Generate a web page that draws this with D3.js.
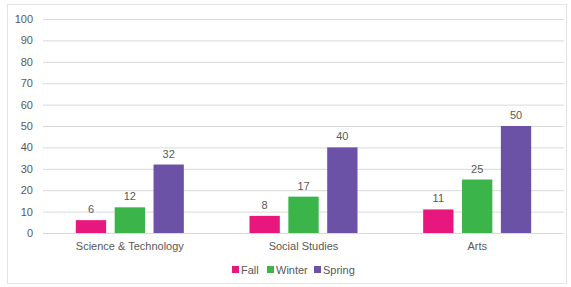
<!DOCTYPE html>
<html>
<head>
<meta charset="utf-8">
<script src="https://cdn.jsdelivr.net/npm/d3@7"></script>
<style>
  body { margin: 0; background: #fff; }
  text { font-family: "Liberation Sans", Arial, sans-serif; fill: #595959; }
</style>
</head>
<body>
<div id="chart"></div>
<script>
// data
const categories = ["Science & Technology", "Social Studies", "Arts"]
const seriesNames = ["Fall", "Winter", "Spring"]
const fallValues = [6, 8, 11]
const winterValues = [12, 17, 25]
const springValues = [32, 40, 50]
const yTicks = [0, 10, 20, 30, 40, 50, 60, 70, 80, 90, 100]
const colors = ["#e8177d", "#3bb54a", "#6b52a6"]

const W = 571, H = 287
const m = {top: 19, right: 7, bottom: 54, left: 43}

var svg = d3.select("#chart").append("svg")
    .attr("width", W)
    .attr("height", H)

// outer frame
svg.append("rect")
    .attr("x", 7.5).attr("y", 4.5)
    .attr("width", W - 12).attr("height", H - 8)
    .attr("fill", "none")
    .attr("stroke", "#e3e3e3")

var x0 = d3.scaleBand()
    .domain(categories)
    .range([m.left, W - m.right])

var x1 = d3.scaleBand()
    .domain(seriesNames)
    .range([0, 108])
    .paddingInner(0.22)

var y = d3.scaleLinear()
    .domain([0, 100])
    .range([H - m.bottom, m.top])

// gridlines + y labels
var yAxis = svg.append("g")
    .attr("transform", "translate(" + m.left + ",0)")
    .call(d3.axisLeft(y).tickValues(yTicks).tickSize(-(W - m.left - m.right)).tickPadding(10))
yAxis.select(".domain").remove()
yAxis.selectAll("line").attr("stroke", "#d9d9d9")
yAxis.selectAll("text").attr("font-size", 11).attr("fill", "#595959")

var rows = categories.map(function(c, i) {
    return {cat: c, vals: [fallValues[i], winterValues[i], springValues[i]]}
})

var groups = svg.selectAll(".grp")
    .data(rows)
    .enter().append("g")
    .attr("class", "grp")
    .attr("transform", function(d) {
        return "translate(" + (x0(d.cat) + x0.bandwidth() / 2 - 54) + ",0)"
    })

groups.selectAll("rect")
    .data(function(d) { return d.vals.map(function(v, j) { return {s: seriesNames[j], v: v, j: j} }) })
    .enter().append("rect")
    .attr("x", function(d) { return x1(d.s) })
    .attr("width", x1.bandwidth())
    .attr("y", function(d) { return y(d.v) })
    .attr("height", function(d) { return y(0) - y(d.v) })
    .attr("fill", function(d) { return colors[d.j] })

groups.selectAll("text")
    .data(function(d) { return d.vals.map(function(v, j) { return {s: seriesNames[j], v: v} }) })
    .enter().append("text")
    .attr("x", function(d) { return x1(d.s) + x1.bandwidth() / 2 })
    .attr("y", function(d) { return y(d.v) - 7 })
    .attr("text-anchor", "middle")
    .attr("font-size", 11)
    .text(function(d) { return d.v })

// category labels
svg.append("g").selectAll("text")
    .data(categories)
    .enter().append("text")
    .attr("x", function(d) { return x0(d) + x0.bandwidth() / 2 })
    .attr("y", H - m.bottom + 17)
    .attr("text-anchor", "middle")
    .attr("font-size", 11)
    .text(function(d) { return d })

// legend
var legendX = [232, 267, 314]
var legend = svg.append("g").attr("transform", "translate(0," + 274 + ")")
var li = legend.selectAll("g")
    .data(seriesNames)
    .enter().append("g")
    .attr("transform", function(d, i) { return "translate(" + legendX[i] + ",0)" })
li.append("rect")
    .attr("x", 0).attr("y", -8)
    .attr("width", 7).attr("height", 7)
    .attr("fill", function(d, i) { return colors[i] })
li.append("text")
    .attr("x", 9).attr("y", 0)
    .attr("font-size", 11)
    .text(function(d) { return d })
</script>
</body>
</html>
